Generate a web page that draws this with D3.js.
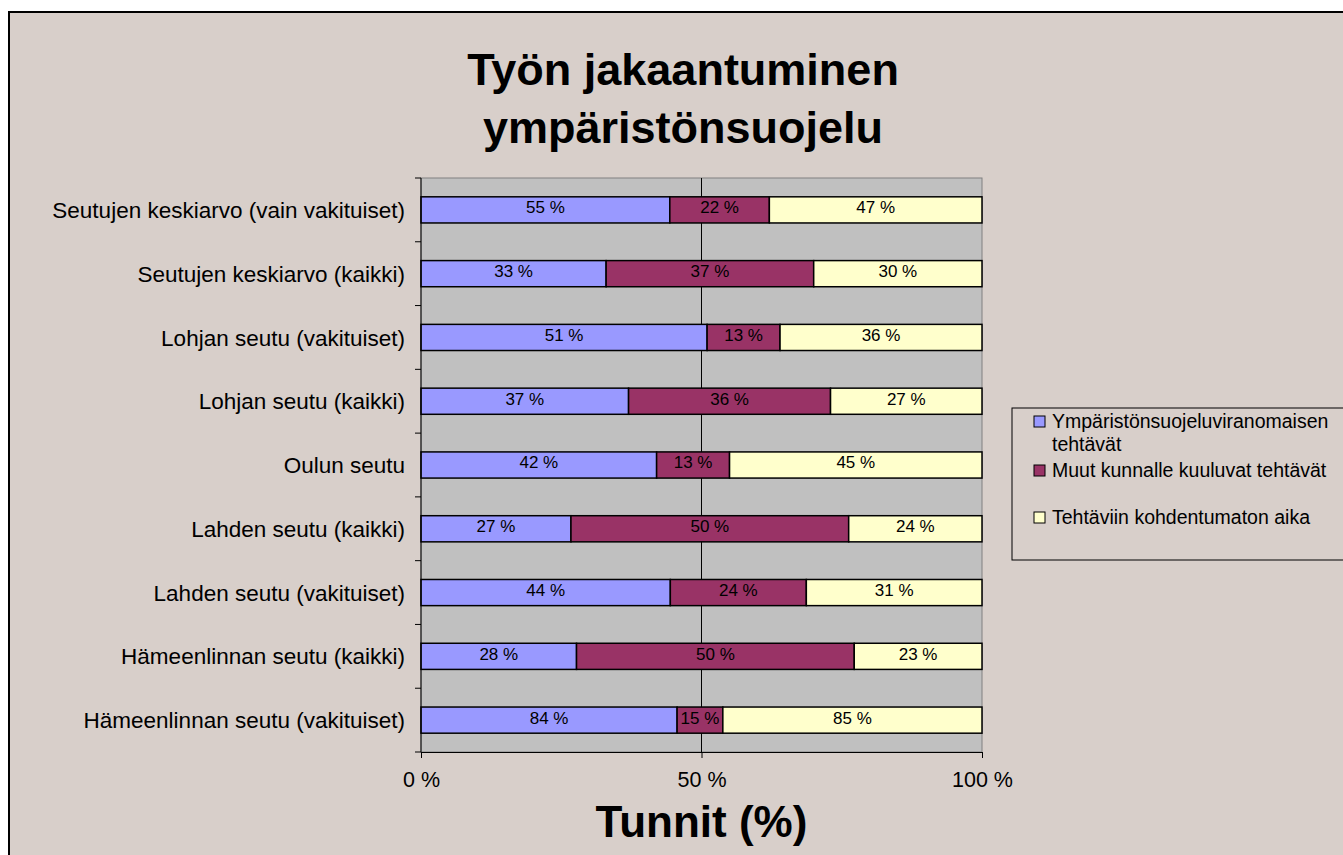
<!DOCTYPE html>
<html>
<head>
<meta charset="utf-8">
<script src="https://cdn.jsdelivr.net/npm/d3@7"></script>
<style>
  html, body { margin: 0; padding: 0; background: #fff; }
  svg { display: block; font-family: "Liberation Sans", Arial, sans-serif; }
</style>
</head>
<body>
<div id="chart"></div>
<script>
  'use strict';

  // categories, top to bottom as shown
  var categories = [
    'Seutujen keskiarvo (vain vakituiset)',
    'Seutujen keskiarvo (kaikki)',
    'Lohjan seutu (vakituiset)',
    'Lohjan seutu (kaikki)',
    'Oulun seutu',
    'Lahden seutu (kaikki)',
    'Lahden seutu (vakituiset)',
    'Hämeenlinnan seutu (kaikki)',
    'Hämeenlinnan seutu (vakituiset)'
  ];
  var seriesNames = [
    'Ympäristönsuojeluviranomaisen tehtävät',
    'Muut kunnalle kuuluvat tehtävät',
    'Tehtäviin kohdentumaton aika'
  ];
  var viranomainen = [55, 33, 51, 37, 42, 27, 44, 28, 84];
  var muut = [22, 37, 13, 36, 13, 50, 24, 50, 15];
  var kohdentumaton = [47, 30, 36, 27, 45, 24, 31, 23, 85];
  var xTicks = [0, 50, 100];
  var colors = ['#9999FF', '#993366', '#FFFFCC'];

  var W = 1343, H = 855;
  var plot = {left: 421, right: 982, top: 178, bottom: 752};

  var svg = d3.select('#chart').append('svg').attr('width', W).attr('height', H);

  svg.append('rect').attr('x', 9).attr('y', 12).attr('width', W).attr('height', H)
    .attr('fill', '#D8CFCA').attr('stroke', '#000').attr('stroke-width', 2);

  // title
  svg.append('text').attr('x', 683).attr('y', 85).attr('text-anchor', 'middle')
    .attr('font-size', 45).attr('font-weight', 'bold').text('Työn jakaantuminen');
  svg.append('text').attr('x', 683).attr('y', 143).attr('text-anchor', 'middle')
    .attr('font-size', 45).attr('font-weight', 'bold').text('ympäristönsuojelu');

  var rows = categories.map(function(c, i) {
    var vals = [viranomainen[i], muut[i], kohdentumaton[i]];
    var total = d3.sum(vals);
    var acc = 0;
    return {
      name: c,
      segs: vals.map(function(v, k) {
        var s = {k: k, v: v, x0: acc / total * 100, x1: (acc + v) / total * 100};
        acc += v;
        return s;
      })
    };
  });

  var x = d3.scaleLinear().domain([0, 100]).range([plot.left, plot.right]);
  var y = d3.scaleBand().domain(categories).range([plot.top, plot.bottom]).paddingInner(0.59).paddingOuter(0.295);
  var yOuter = d3.scaleBand().domain(categories).range([plot.top, plot.bottom]);

  // plot area
  svg.append('rect').attr('x', plot.left).attr('y', plot.top)
    .attr('width', plot.right - plot.left).attr('height', plot.bottom - plot.top)
    .attr('fill', '#C0C0C0').attr('stroke', '#808080').attr('stroke-width', 1);

  svg.append('line').attr('x1', x(50)).attr('x2', x(50)).attr('y1', plot.top).attr('y2', plot.bottom)
    .attr('stroke', '#000').attr('stroke-width', 1);

  var g = svg.append('g').selectAll('g').data(rows).enter().append('g');
  g.selectAll('rect').data(function(d) { return d.segs.map(function(s) { s.name = d.name; return s; }); })
    .enter().append('rect')
    .attr('x', function(d) { return x(d.x0); })
    .attr('y', function(d) { return y(d.name); })
    .attr('width', function(d) { return x(d.x1) - x(d.x0); })
    .attr('height', y.bandwidth())
    .attr('fill', function(d) { return colors[d.k]; })
    .attr('stroke', '#000').attr('stroke-width', 1.5);

  g.selectAll('text').data(function(d) { return d.segs; })
    .enter().append('text')
    .attr('x', function(d) { return x((d.x0 + d.x1) / 2); })
    .attr('y', function(d) { return y(d.name) + y.bandwidth() / 2; })
    .attr('dy', '0.2em')
    .attr('text-anchor', 'middle').attr('font-size', 17).attr('fill', '#000')
    .text(function(d) { return d.v + ' %'; });

  // y axis
  var yAxisG = svg.append('g');
  yAxisG.append('line').attr('x1', plot.left).attr('x2', plot.left).attr('y1', plot.top).attr('y2', plot.bottom)
    .attr('stroke', '#000');
  yAxisG.selectAll('line.tick').data(d3.range(categories.length + 1)).enter().append('line')
    .attr('class', 'tick')
    .attr('x1', plot.left - 6).attr('x2', plot.left)
    .attr('y1', function(i) { return plot.top + i * yOuter.step(); })
    .attr('y2', function(i) { return plot.top + i * yOuter.step(); })
    .attr('stroke', '#000');
  yAxisG.selectAll('text').data(categories).enter().append('text')
    .attr('x', plot.left - 16)
    .attr('y', function(d) { return y(d) + y.bandwidth() / 2; })
    .attr('dy', '0.36em').attr('text-anchor', 'end').attr('font-size', 22.5)
    .text(function(d) { return d; });

  // x axis
  var xAxis = d3.axisBottom(x).tickValues(xTicks).tickSize(6).tickPadding(14)
    .tickFormat(function(d) { return d + ' %'; });
  var xg = svg.append('g').attr('transform', 'translate(0,' + plot.bottom + ')').call(xAxis);
  xg.select('.domain').attr('stroke', '#000');
  xg.selectAll('text').attr('font-size', 21.5).attr('font-family', '"Liberation Sans", Arial, sans-serif').attr('fill', '#000');

  svg.append('text').attr('x', x(50)).attr('y', 837).attr('text-anchor', 'middle')
    .attr('font-size', 44).attr('font-weight', 'bold').text('Tunnit (%)');

  // legend
  var lg = svg.append('g');
  lg.append('rect').attr('x', 1012).attr('y', 408).attr('width', 340).attr('height', 152)
    .attr('fill', 'none').attr('stroke', '#000').attr('stroke-width', 1);
  var legendItems = [
    {k: 0, lines: ['Ympäristönsuojeluviranomaisen', 'tehtävät'], y: 421},
    {k: 1, lines: ['Muut kunnalle kuuluvat tehtävät'], y: 470},
    {k: 2, lines: ['Tehtäviin kohdentumaton aika'], y: 517}
  ];
  var li = lg.selectAll('g').data(legendItems).enter().append('g');
  li.append('rect').attr('x', 1034).attr('y', function(d) { return d.y - 5; })
    .attr('width', 11).attr('height', 11)
    .attr('fill', function(d) { return colors[d.k]; }).attr('stroke', '#000');
  li.append('text').attr('font-size', 19.5)
    .selectAll('tspan').data(function(d) { return d.lines.map(function(l, j) { return {l: l, y: d.y + j * 23}; }); })
    .enter().append('tspan')
    .attr('x', 1052).attr('y', function(d) { return d.y; }).attr('dy', '0.36em')
    .text(function(d) { return d.l; });
</script>
</body>
</html>
